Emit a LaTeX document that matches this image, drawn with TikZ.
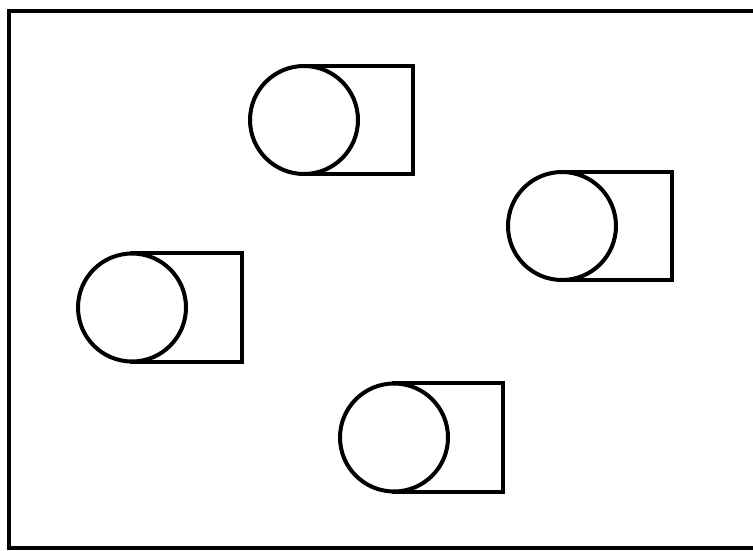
\documentclass[tikz,border=0pt]{standalone}
\usepackage{tikz}

\begin{document}
\begin{tikzpicture}[x=1pt, y=-1pt, line width=4pt]
    \clip (0,0) rectangle (753,551);
    \fill[white] (0,0) rectangle (753,551);
    \draw (9,11) rectangle (765,548);
    % top
    \draw (304,66) rectangle (413,174);
    \draw[fill=white] (304,120) circle (54);
    % right
    \draw (562,172) rectangle (672,280);
    \draw[fill=white] (562,226) circle (54);
    % left
    \draw (132,253) rectangle (242,362);
    \draw[fill=white] (132,307.5) circle (54);
    % bottom
    \draw (394,383) rectangle (503,492);
    \draw[fill=white] (394,437.5) circle (54);
\end{tikzpicture}
\end{document}
